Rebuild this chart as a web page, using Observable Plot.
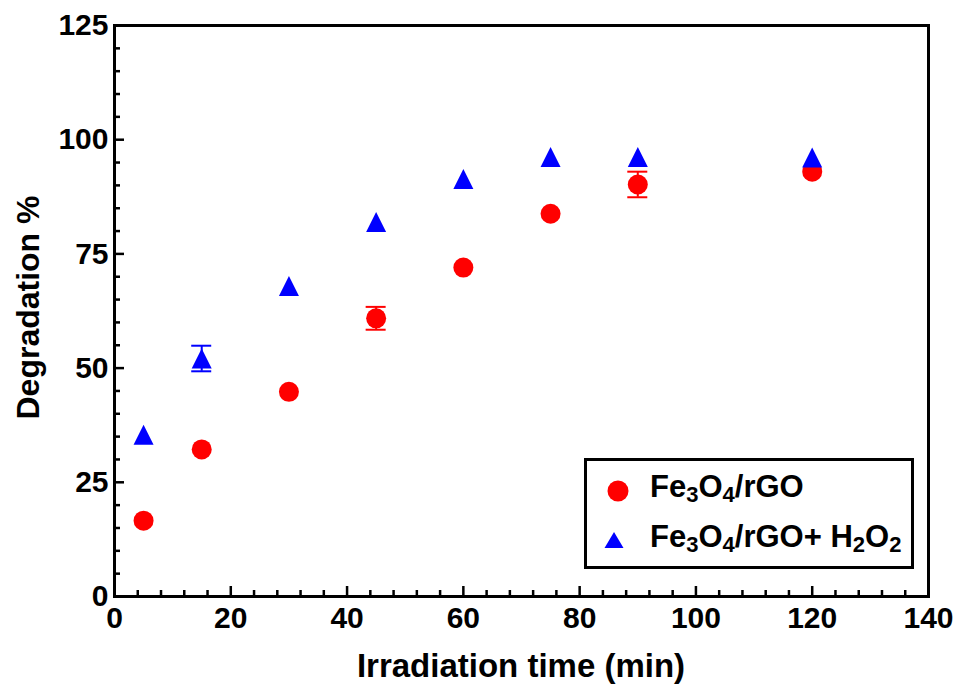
<!DOCTYPE html>
<html>
<head>
<meta charset="utf-8">
<script src="https://cdn.jsdelivr.net/npm/d3@7"></script>
<script src="https://cdn.jsdelivr.net/npm/@observablehq/plot@0.6"></script>
<style>
  body { margin: 0; background: #fff; }
  #chart { width: 958px; height: 687px; }
</style>
</head>
<body>
<div id="chart"></div>
<script>
// ---- Data ----
const times = [5, 15, 30, 45, 60, 75, 90, 120];
const fe3o4rGO = [16.6, 32.2, 44.8, 60.9, 72.0, 83.8, 90.2, 93.0];
const fe3o4rGOErr = [0, 0, 0, 2.5, 0, 0, 2.8, 0];
const fe3o4rGOH2O2 = [35.4, 52.1, 68.0, 82.0, 91.4, 96.2, 96.2, 96.1];
const fe3o4rGOH2O2Err = [0, 2.8, 0, 0, 0, 0, 0, 0];
const xTicks = [0, 20, 40, 60, 80, 100, 120, 140];
const yTicks = [0, 25, 50, 75, 100, 125];
const xTitle = "Irradiation time (min)";
const yTitle = "Degradation %";

// ---- Layout ----
const W = 958, H = 687, mL = 114, mR = 30, mT = 25, mB = 91;
const fw = W - mL - mR, fh = H - mT - mB;
const FONT = "'Liberation Sans', Arial, Helvetica, sans-serif";

const xMinor = d3.range(0, 141, 4).filter(v => !xTicks.includes(v));
const yMinor = d3.range(0, 126, 5).filter(v => !yTicks.includes(v));

const red = times.map((t, i) => ({t, v: fe3o4rGO[i], e: fe3o4rGOErr[i]}));
const blue = times.map((t, i) => ({t, v: fe3o4rGOH2O2[i], e: fe3o4rGOH2O2Err[i]}));
const redErr = red.filter(d => d.e > 0);
const blueErr = blue.filter(d => d.e > 0);

// triangle centred on its bounding box, width = height
const tri = {
  draw(context, size) {
    const h = Math.sqrt(size / Math.PI) * 2;
    context.moveTo(0, -h / 2);
    context.lineTo(h / 2, h / 2);
    context.lineTo(-h / 2, h / 2);
    context.closePath();
  }
};

function errMarks(data, color) {
  return [
    Plot.ruleX(data, {x: "t", y1: d => d.v - d.e, y2: d => d.v + d.e, stroke: color, strokeWidth: 2}),
    Plot.ruleY(data, {x1: "t", x2: "t", y: d => d.v + d.e, stroke: color, strokeWidth: 2, insetLeft: -10, insetRight: -10}),
    Plot.ruleY(data, {x1: "t", x2: "t", y: d => d.v - d.e, stroke: color, strokeWidth: 2, insetLeft: -10, insetRight: -10})
  ];
}

const chart = Plot.plot({
  width: W, height: H,
  marginLeft: mL, marginRight: mR, marginTop: mT, marginBottom: mB,
  style: {fontFamily: FONT, background: "white", color: "black"},
  x: {domain: [0, 140]},
  y: {domain: [0, 125]},
  marks: [
    Plot.ruleX(xMinor, {stroke: "black", strokeWidth: 2.5, insetTop: fh - 6}),
    Plot.ruleX(xTicks, {stroke: "black", strokeWidth: 2.5, insetTop: fh - 10}),
    Plot.ruleY(yMinor, {stroke: "black", strokeWidth: 2.5, insetRight: fw - 6}),
    Plot.ruleY(yTicks, {stroke: "black", strokeWidth: 2.5, insetRight: fw - 10}),
    Plot.frame({stroke: "black", strokeWidth: 3}),
    Plot.axisX({ticks: xTicks, tickSize: 0, tickPadding: 10, label: null, fontSize: 30, fontWeight: "bold", fill: "black"}),
    Plot.axisY({ticks: yTicks, tickSize: 0, tickPadding: 6, label: null, fontSize: 30, fontWeight: "bold", fill: "black"}),
    ...errMarks(redErr, "#ff0000"),
    ...errMarks(blueErr, "#0000ff"),
    Plot.dot(red, {x: "t", y: "v", r: 10, fill: "#ff0000", stroke: "none"}),
    Plot.dot(blue, {x: "t", y: "v", r: 10, symbol: tri, fill: "#0000ff", stroke: "none"})
  ]
});

document.getElementById("chart").appendChild(chart);

const svg = d3.select(chart);
// axis titles
svg.append("text")
  .attr("x", mL + fw / 2).attr("y", 677)
  .attr("text-anchor", "middle")
  .style("font-family", FONT).style("font-weight", "bold").style("font-size", "33px")
  .attr("fill", "black").text(xTitle);
svg.append("text")
  .attr("transform", `translate(39, ${mT + fh / 2 - 3}) rotate(-90)`)
  .attr("text-anchor", "middle")
  .style("font-family", FONT).style("font-weight", "bold").style("font-size", "32px")
  .attr("fill", "black").text(yTitle);

// legend
const lg = svg.append("g");
lg.append("rect").attr("x", 585.5).attr("y", 459.5).attr("width", 327).attr("height", 108)
  .attr("fill", "white").attr("stroke", "black").attr("stroke-width", 3);
lg.append("circle").attr("cx", 618).attr("cy", 491).attr("r", 10.5).attr("fill", "#ff0000");
lg.append("path").attr("d", "M614,532 L623.5,548 L604.5,548 Z").attr("fill", "#0000ff");

function legendText(y, parts) {
  const t = lg.append("text").attr("x", 650).attr("y", y)
    .attr("text-anchor", "start")
    .style("font-family", FONT).style("font-weight", "bold").style("font-size", "31px").attr("fill", "black");
  let prevSub = false;
  parts.forEach(([s, sub]) => {
    const ts = t.append("tspan").text(s);
    if (sub) ts.style("font-size", "22px");
    ts.attr("dy", sub && !prevSub ? 5 : (!sub && prevSub ? -5 : 0));
    prevSub = !!sub;
  });
}
legendText(497, [["Fe"], ["3", true], ["O"], ["4", true], ["/rGO"]]);
legendText(547, [["Fe"], ["3", true], ["O"], ["4", true], ["/rGO+ H"], ["2", true], ["O"], ["2", true]]);
</script>
</body>
</html>
